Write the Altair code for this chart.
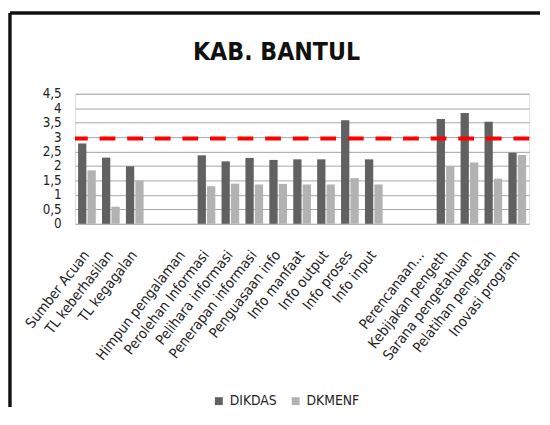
import altair as alt
import pandas as pd

categories = ["Sumber Acuan", "TL keberhasilan", "TL kegagalan", " ",
              "Himpun pengalaman", "Perolehan Informasi", "Pelihara informasi",
              "Penerapan informasi", "Penguasaan info", "Info manfaat",
              "Info output", "Info proses", "Info input", "  ",
              "Perencanaan...", "Kebijakan pengeth", "Sarana pengetahuan",
              "Pelatihan pengetah", "Inovasi program"]
dikdas = [2.78, 2.29, 1.99, None, None, 2.37, 2.16, 2.28, 2.21, 2.23,
          2.23, 3.58, 2.23, None, None, 3.63, 3.83, 3.53, 2.46]
dkmenf = [1.85, 0.59, 1.50, None, None, 1.30, 1.39, 1.36, 1.38, 1.36,
          1.36, 1.58, 1.36, None, None, 1.99, 2.12, 1.56, 2.38]
series = ["DIKDAS", "DKMENF"]
series_colors = ["#616161", "#b2b2b2"]
threshold = [2.95]
y_ticks = [0, 0.5, 1, 1.5, 2, 2.5, 3, 3.5, 4, 4.5]

rows = []
for c, a, b in zip(categories, dikdas, dkmenf):
    rows.append({"cat": c, "series": "DIKDAS", "value": a})
    rows.append({"cat": c, "series": "DKMENF", "value": b})
df = pd.DataFrame(rows)

FONT = "DejaVu Sans Condensed, sans-serif"

x_enc = alt.X("cat:N", sort=categories,
              scale=alt.Scale(paddingInner=0.26, paddingOuter=0.13),
              axis=alt.Axis(title=None, labelAngle=-52, domain=False, ticks=False,
                            labelPadding=29, labelFontSize=14.5, labelColor="#222222",
                            labelFont=FONT, labelOverlap=False, labelLimit=300))

yscale = alt.Scale(domain=[0, 4.5], nice=False)
yaxis = alt.Axis(title=None, values=y_ticks, domain=False, ticks=False,
                 labelExpr="replace(format(datum.value, '~g'), '.', ',')",
                 labelPadding=14, labelFontSize=13.5, labelColor="#222222",
                 labelFont=FONT, gridColor="#a6a6a6", gridWidth=1,
                 labelOverlap=False)

bars = alt.Chart(df).mark_bar().encode(
    x=x_enc,
    xOffset=alt.XOffset("series:N", sort=series, scale=alt.Scale(paddingInner=0.12)),
    y=alt.Y("value:Q", scale=yscale, axis=yaxis),
    color=alt.Color("series:N", sort=series,
                    scale=alt.Scale(domain=series, range=series_colors),
                    legend=alt.Legend(title=None, orient="none", direction="horizontal",
                                      legendX=139, legendY=305, symbolType="square",
                                      symbolSize=64, symbolStrokeWidth=0,
                                      labelFontSize=14, labelFont=FONT,
                                      labelColor="#222222", columnPadding=12,
                                      labelOffset=4, padding=0)),
)

thr_df = pd.DataFrame({"t": threshold})
red = alt.Chart(thr_df).mark_rule(color="#ff0000", strokeWidth=4,
                                  strokeDash=[16, 12]).encode(
    y=alt.Y("t:Q", scale=yscale, axis=yaxis))

frame_v = alt.Chart(thr_df).mark_rule(color="#111111", strokeWidth=3.5).encode(
    x=alt.value(-66), y=alt.value(-82), y2=alt.value(318))
frame_h = alt.Chart(thr_df).mark_rule(color="#111111", strokeWidth=3.5).encode(
    y=alt.value(-82), x=alt.value(-66), x2=alt.value(472))

chart = alt.layer(bars, red, frame_v, frame_h).properties(
    width=461, height=132,
    padding={"left": 0, "top": 0, "right": 0, "bottom": 0},
    title=alt.TitleParams("KAB. BANTUL", fontSize=25, font=FONT, fontWeight="bold",
                          color="#111111", anchor="middle", dx=-26, offset=-54),
).configure_view(stroke=None).configure(background="white")

chart.save("out.html", embed_options={"renderer": "svg", "actions": False})
